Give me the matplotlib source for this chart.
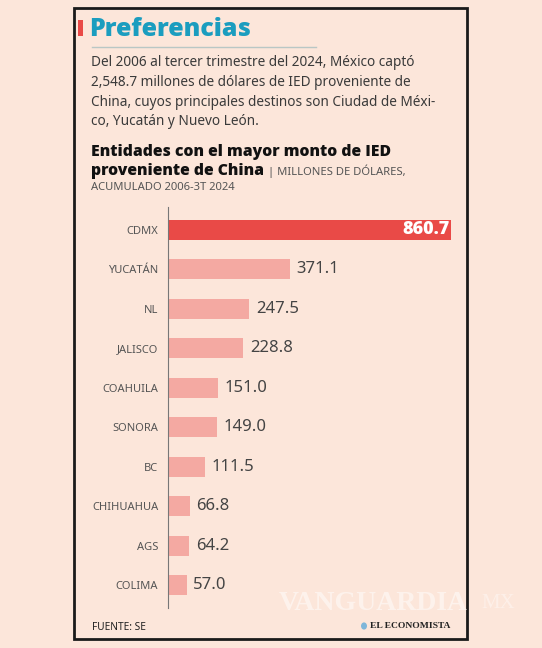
import matplotlib
matplotlib.use("Agg")
from matplotlib import pyplot as plt
from matplotlib.patches import Rectangle, Circle

# data
estados = ["CDMX", "YUCATÁN", "NL", "JALISCO", "COAHUILA", "SONORA", "BC",
           "CHIHUAHUA", "AGS", "COLIMA"]
montos = [860.7, 371.1, 247.5, 228.8, 151.0, 149.0, 111.5, 66.8, 64.2, 57.0]

BG = "#fce6da"
RED = "#e94a47"
PINK = "#f4a9a2"
TEAL = "#1b9dbf"
GREY = "#555555"
BOLD = ["Open Sans", "DejaVu Sans"]

plt.rcParams["font.family"] = ["Noto Sans", "DejaVu Sans"]

W, H = 542, 648
fig = plt.figure(figsize=(W / 100, H / 100), dpi=100, facecolor=BG)


def fx(px):
    return px / W


def fy(py):
    return 1 - py / H


# frame
fig.add_artist(Rectangle((fx(74), fy(639)), fx(467) - fx(74), fy(8) - fy(639),
                         transform=fig.transFigure, fill=False,
                         edgecolor="#1a1a1a", linewidth=2))
fig.add_artist(Rectangle((fx(78), fy(36)), fx(5), fy(20) - fy(36),
                         transform=fig.transFigure, color=RED, linewidth=0))
fig.add_artist(plt.Line2D([fx(92), fx(316)], [fy(47), fy(47)],
                          transform=fig.transFigure, color="#b9c7c5", linewidth=1))

fig.text(fx(89), fy(29), "Preferencias", color=TEAL, fontsize=18,
         fontweight="heavy", family=BOLD, va="center")

body = ["Del 2006 al tercer trimestre del 2024, México captó",
        "2,548.7 millones de dólares de IED proveniente de",
        "China, cuyos principales destinos son Ciudad de Méxi-",
        "co, Yucatán y Nuevo León."]
for i, line in enumerate(body):
    fig.text(fx(91), fy(63 + i * 19.5), line, color="#3a3a3a", fontsize=9.8,
             va="center")

fig.text(fx(91), fy(152), "Entidades con el mayor monto de IED", color="#111111",
         fontsize=11.3, fontweight="heavy", family=BOLD, va="center")
t2 = fig.text(fx(91), fy(171), "proveniente de China", color="#111111",
              fontsize=11.3, fontweight="heavy", family=BOLD, va="center")
fig.canvas.draw()
x_end = t2.get_window_extent().x1
fig.text((x_end + 4) / W, fy(171), "| MILLONES DE DÓLARES,", color=GREY,
         fontsize=8.1, va="center")
fig.text(fx(91), fy(188), "ACUMULADO 2006-3T 2024", color=GREY,
         fontsize=8.1, va="center")

# chart
ax = fig.add_axes([fx(168), fy(608), fx(451) - fx(168), fy(207) - fy(608)])
ax.set_facecolor(BG)
ypos = list(range(len(estados)))
colores = [RED] + [PINK] * (len(estados) - 1)
ax.barh(ypos, montos, height=0.5, color=colores, linewidth=0)
ax.set_xlim(0, max(montos))
ax.set_ylim(len(estados) - 1 + 0.58, -0.58)
for s in ["top", "right", "bottom"]:
    ax.spines[s].set_visible(False)
ax.spines["left"].set_color("#777777")
ax.spines["left"].set_linewidth(0.8)
ax.set_xticks([])
ax.set_yticks(ypos)
ax.set_yticklabels(estados, color=GREY, fontsize=8)
ax.tick_params(axis="y", length=0, pad=7)

for i, v in enumerate(montos):
    if i == 0:
        ax.text(v - 5, i, f"{v:.1f}", color="white", fontsize=13,
                fontweight="heavy", family=BOLD, va="center", ha="right")
    else:
        ax.text(v + 20, i, f"{v:.1f}", color="#444444", fontsize=12,
                va="center", ha="left")

# footer
fig.text(fx(92), fy(627), "FUENTE: SE", color="#222222", fontsize=7.3, va="center")
fig.add_artist(Circle((fx(364), fy(626)), 3 / W, transform=fig.transFigure,
                      color="#7fb6d9", linewidth=0))
fig.text(fx(450), fy(626), "EL ECONOMISTA", color="#222222", fontsize=6.8,
         fontweight="bold", family="Liberation Serif", va="center", ha="right")
fig.text(fx(279), fy(604), "VANGUARDIA", color="white", alpha=0.5, fontsize=20,
         fontweight="bold", family="Liberation Serif", va="center")
fig.text(fx(481), fy(604), "MX", color="white", alpha=0.4, fontsize=15,
         family="Liberation Serif", va="center")

fig.savefig("out.png", dpi=100, facecolor=BG)
